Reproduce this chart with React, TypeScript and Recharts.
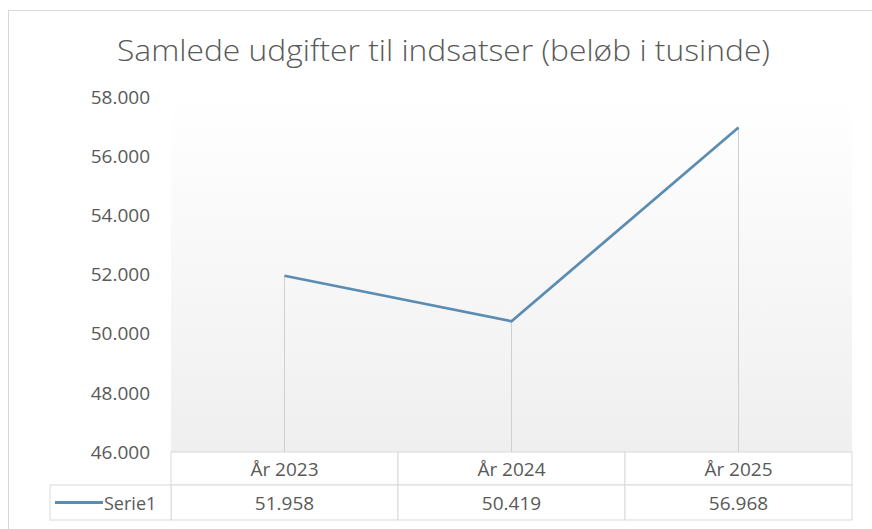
import React from 'react';
import { LineChart, Line, XAxis, YAxis, ReferenceLine, ReferenceArea } from 'recharts';

const categories = ['År 2023', 'År 2024', 'År 2025'];
const serie1 = [51958, 50419, 56968];
const yTicks = [46000, 48000, 50000, 52000, 54000, 56000, 58000];
const seriesName = 'Serie1';
const title = 'Samlede udgifter til indsatser (beløb i tusinde)';

const data = categories.map((c, i) => ({ cat: c, v: serie1[i] }));

const W = 872;
const H = 529;
const LINE_COLOR = '#5b8db3';
const GRID = '#d9d9d9';
const TEXT = '#595959';
const FONT = '"Open Sans", sans-serif';
const HEADER_H = 33;
const ROW_H = 35;
const LEGEND_W = 121;
const FS = 19;

const fmt = (v: number) => String(v).replace(/\B(?=(\d{3})+(?!\d))/g, '.');

const TableTick = (props: any) => {
  const { x, y, payload, index, width, visibleTicksCount } = props;
  let bw = payload && payload.offset ? payload.offset * 2 : 0;
  if (!bw) bw = width / (visibleTicksCount || categories.length);
  const left = x - bw / 2;
  const val = serie1[index];
  return (
    <g>
      <rect x={left} y={y} width={bw} height={HEADER_H} fill="#ffffff" stroke={GRID} strokeWidth={1} />
      <rect x={left} y={y + HEADER_H} width={bw} height={ROW_H} fill="#ffffff" stroke={GRID} strokeWidth={1} />
      <text x={x} y={y + HEADER_H / 2} textAnchor="middle" dominantBaseline="central" fill={TEXT} fontSize={FS} fontFamily={FONT}>
        {payload.value}
      </text>
      <text x={x} y={y + HEADER_H + ROW_H / 2} textAnchor="middle" dominantBaseline="central" fill={TEXT} fontSize={FS} fontFamily={FONT}>
        {fmt(val)}
      </text>
      {index === 0 && (
        <g>
          <rect x={left - LEGEND_W} y={y + HEADER_H} width={LEGEND_W} height={ROW_H} fill="#ffffff" stroke={GRID} strokeWidth={1} />
          <line x1={left - LEGEND_W + 5} x2={left - LEGEND_W + 53} y1={y + HEADER_H + ROW_H / 2} y2={y + HEADER_H + ROW_H / 2} stroke={LINE_COLOR} strokeWidth={3} />
          <text x={left - LEGEND_W + 54} y={y + HEADER_H + ROW_H / 2} textAnchor="start" dominantBaseline="central" fill={TEXT} fontSize={FS - 1} fontFamily={FONT}>
            {seriesName}
          </text>
        </g>
      )}
    </g>
  );
};

export default function App() {
  return (
    <div style={{ position: 'absolute', left: 0, top: 0, width: W, height: H, background: '#ffffff', overflow: 'hidden' }}>
      <svg width={W} height={H} style={{ position: 'absolute', left: 0, top: 0 }}>
        <defs>
          <linearGradient id="plotBg" x1="0" y1="0" x2="0" y2="1">
            <stop offset="0%" stopColor="#ffffff" />
            <stop offset="100%" stopColor="#efefef" />
          </linearGradient>
        </defs>
        <rect x={8.5} y={10.5} width={W} height={H} fill="#ffffff" stroke={GRID} strokeWidth={1} />
        <text x={443.5} y={61} textAnchor="middle" fill={TEXT} fontSize={29} fontWeight={300} fontFamily={FONT} textLength={653} lengthAdjust="spacingAndGlyphs">
          {title}
        </text>
      </svg>
      <div style={{ position: 'absolute', left: 0, top: 0 }}>
        <LineChart width={W} height={H} data={data} margin={{ top: 97, right: 20, bottom: 0, left: 0 }}>
          <YAxis
            type="number"
            domain={[46000, 58000]}
            ticks={yTicks}
            width={171}
            axisLine={false}
            tickLine={false}
            tickMargin={15}
            tickFormatter={fmt}
            tick={{ fill: TEXT, fontSize: FS, fontFamily: FONT }}
            interval={0}
          />
          <XAxis
            dataKey="cat"
            scale="band"
            height={77}
            axisLine={false}
            tickLine={false}
            tickSize={0}
            tickMargin={0}
            interval={0}
            tick={<TableTick />}
          />
          <ReferenceArea y1={46000} y2={58000} fill="url(#plotBg)" fillOpacity={1} stroke="none" ifOverflow="extendDomain" />
          {data.map((d) => (
            <ReferenceLine
              key={d.cat}
              segment={[{ x: d.cat, y: 46000 }, { x: d.cat, y: d.v }]}
              stroke="#cfcfcf"
              strokeWidth={1}
            />
          ))}
          <Line
            type="linear"
            dataKey="v"
            name={seriesName}
            stroke={LINE_COLOR}
            strokeWidth={2.75}
            dot={false}
            activeDot={false}
            isAnimationActive={false}
          />
        </LineChart>
      </div>
    </div>
  );
}
